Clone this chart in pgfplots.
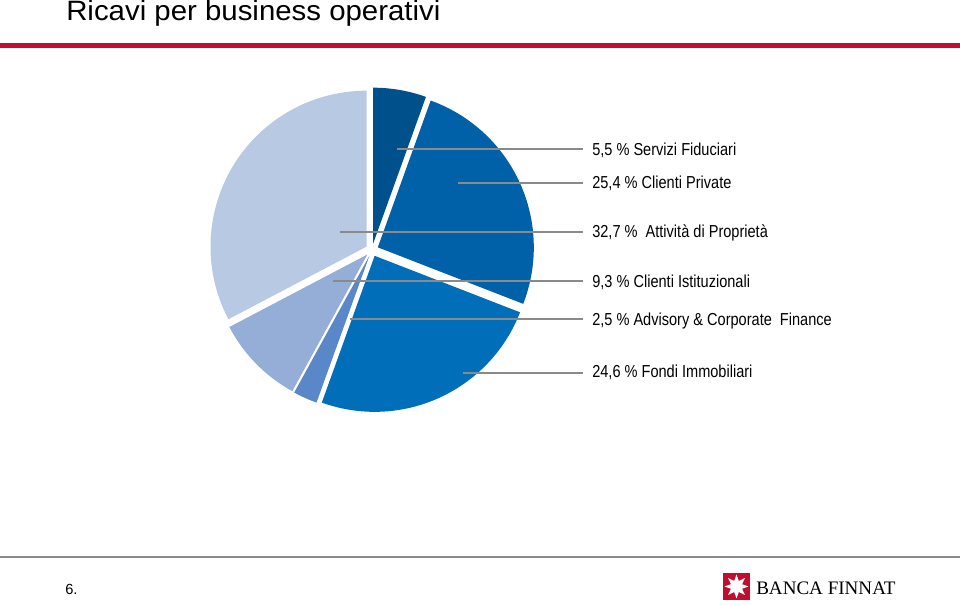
\documentclass[border=0pt]{standalone}
\usepackage{fontspec}
\setmainfont{Liberation Sans}
\newfontfamily\titlefont[FakeStretch=1.05]{Liberation Sans}
\newfontfamily\labfont[FakeStretch=0.84]{Liberation Sans}
\newfontfamily\logofont{Liberation Serif}
\usepackage{pgfplots}
\pgfplotsset{compat=1.18}
\usetikzlibrary{shapes.geometric}
\definecolor{s1}{HTML}{00508C}
\definecolor{s2}{HTML}{0060A8}
\definecolor{s3}{HTML}{006EB8}
\definecolor{s4}{HTML}{5A87C8}
\definecolor{s5}{HTML}{95AED8}
\definecolor{s6}{HTML}{B8C9E3}
\definecolor{finnatred}{HTML}{C40C2E}
\definecolor{leader}{HTML}{8A8A8A}
\begin{document}
\begin{tikzpicture}
\path[use as bounding box] (0,0) rectangle (720pt,453.75pt);
\begin{axis}[at={(0,0)}, anchor=south west, width=720pt, height=453.75pt,
  scale only axis, xmin=0, xmax=960, ymin=-605, ymax=0, hide axis, clip=false]
% pie slices: percentage / colour, clockwise from 12 o'clock
\gdef\cum{90}
\foreach \v/\col in {5.5/s1, 25.4/s2, 24.6/s3, 2.5/s4, 9.3/s5, 32.7/s6}{
  \pgfmathsetmacro\st{\cum}
  \pgfmathsetmacro\en{\cum-3.6*\v}
  \pgfmathsetmacro\md{(\st+\en)/2}
  \xdef\cum{\en}
  \edef\tmp{\noexpand\fill[\col, shift={(\md:4.8pt)}] (axis cs:372,-250) -- ++(\st:117pt) arc[start angle=\st, end angle=\en, radius=117pt] -- cycle;}
  \tmp
}
% leader lines
\draw[leader, line width=0.8pt] (axis cs:397,-149) -- (axis cs:583,-149);
\draw[leader, line width=0.8pt] (axis cs:458,-183) -- (axis cs:583,-183);
\draw[leader, line width=0.8pt] (axis cs:340,-232) -- (axis cs:583,-232);
\draw[leader, line width=0.8pt] (axis cs:333,-281) -- (axis cs:583,-281);
\draw[leader, line width=0.8pt] (axis cs:350,-319) -- (axis cs:583,-319);
\draw[leader, line width=0.8pt] (axis cs:463,-373) -- (axis cs:583,-373);
% labels
\node[anchor=base west, inner sep=0pt, font=\labfont\fontsize{13pt}{15pt}\selectfont] at (axis cs:592,-156) {5,5 \% Servizi Fiduciari};
\node[anchor=base west, inner sep=0pt, font=\labfont\fontsize{13pt}{15pt}\selectfont] at (axis cs:592,-189) {25,4 \% Clienti Private};
\node[anchor=base west, inner sep=0pt, font=\labfont\fontsize{13pt}{15pt}\selectfont] at (axis cs:592,-238) {32,7 \%\ \ Attività di Proprietà};
\node[anchor=base west, inner sep=0pt, font=\labfont\fontsize{13pt}{15pt}\selectfont] at (axis cs:592,-288) {9,3 \% Clienti Istituzionali};
\node[anchor=base west, inner sep=0pt, font=\labfont\fontsize{13pt}{15pt}\selectfont] at (axis cs:592,-326) {2,5 \% Advisory \& Corporate\ \ Finance};
\node[anchor=base west, inner sep=0pt, font=\labfont\fontsize{13pt}{15pt}\selectfont] at (axis cs:592,-378) {24,6 \% Fondi Immobiliari};
% title and rules
\node[anchor=base west, inner sep=0pt, font=\titlefont\fontsize{21pt}{25pt}\selectfont] at (axis cs:66,-21) {Ricavi per business operativi};
\fill[finnatred] (axis cs:0,-43) rectangle (axis cs:960,-48);
\fill[leader] (axis cs:0,-556.5) rectangle (axis cs:960,-558.5);
% footer
\node[anchor=base west, inner sep=0pt, font=\fontsize{11pt}{13pt}\selectfont] at (axis cs:65,-595) {6.};
\fill[finnatred] (axis cs:723,-573) rectangle (axis cs:750,-600);
\node[star, star points=8, star point ratio=2.0, fill=white, inner sep=0pt, minimum size=18pt] at (axis cs:736.5,-586.5) {};
\node[anchor=base west, inner sep=0pt, font=\logofont\fontsize{14.3pt}{16pt}\selectfont] at (axis cs:756,-595) {BANCA FINNAT};
\end{axis}
\end{tikzpicture}
\end{document}
